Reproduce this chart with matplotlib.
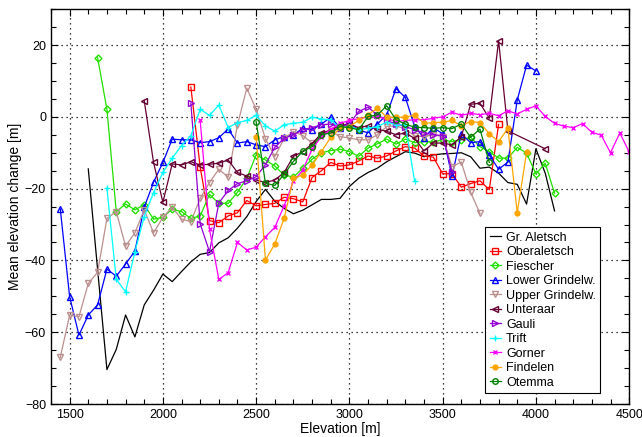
import numpy as np
import matplotlib
matplotlib.use('Agg')
import matplotlib.pyplot as plt
from matplotlib.ticker import MultipleLocator

plt.rcParams['font.family'] = ['Liberation Sans', 'DejaVu Sans']
plt.rcParams['font.size'] = 10

# ── Data: mean elevation change [m] per 50 m elevation band ─────────
aletsch_start = 1600
aletsch = [-14.5, -42.5, -70.4, -64.8, -55.2, -61.3, -52.4, -48.3, -43.8, -45.9,
           -43.1, -40.4, -38.3, -37.8, -35.1, -33.7, -31.0, -27.8, -23.6, -20.2,
           -23.5, -25.5, -27.0, -26.0, -24.5, -23.0, -23.0, -22.7, -19.4, -17.1,
           -15.5, -14.3, -12.5, -11.1, -9.7, -10.1, -11.1, -10.6, -10.3, -10.2,
           -10.0, -11.1, -14.3, -14.0, -15.7, -18.3, -18.8, -24.3, -8.9, -15.7,
           -26.2]

oberaletsch_start = 2150
oberaletsch = [8.3, -14.0, -28.9, -29.5, -27.6, -26.7, -23.3, -24.8, -24.4, -24.1,
               -22.4, -22.8, -23.7, -16.9, -15.0, -12.7, -13.7, -13.4, -12.3, -10.9,
               -11.5, -10.9, -9.5, -8.3, -8.7, -10.9, -11.2, -15.9, -15.8, -19.6,
               -18.6, -17.8, -20.3, -2.1]

fiescher_start = 1650
fiescher = [16.5, 2.1, -26.4, -24.3, -25.9, -24.5, -28.5, -28.0, -25.7, -26.4,
            -28.3, -27.6, -21.6, -24.1, -24.1, -21.0, -17.1, -10.6, -12.0, -13.7,
            -16.2, -16.8, -14.3, -11.8, -10.0, -9.4, -9.0, -9.7, -11.0, -8.7,
            -7.5, -6.2, -7.6, -6.2, -7.2, -6.9, -7.0, -6.4, -6.9, -6.4,
            -5.7, -8.3, -9.7, -11.5, -11.5, -8.5, -10.1, -15.9, -12.9, -21.3]

lower_grin_start = 1450
lower_grin = [-25.7, -50.1, -60.8, -55.2, -52.4, -42.4, -44.4, -41.0, -37.4, -25.2,
              -18.2, -12.7, -6.2, -6.4, -6.4, -7.2, -6.9, -5.8, -3.4, -7.3,
              -6.9, -7.8, -8.3, -6.4, -5.5, -5.0, -3.2, -3.6, -2.0, -0.1,
              -3.0, -1.6, -3.8, -4.4, -2.0, 0.6, 7.9, 5.4, -2.7, -5.9,
              -3.0, -4.7, -16.6, -4.7, -7.2, -6.9, -10.6, -14.6, -12.6, 4.7,
              14.4, 12.8]

upper_grin_start = 1450
upper_grin = [-67.0, -55.2, -55.7, -46.4, -43.3, -28.3, -26.4, -36.0, -32.3, -25.9,
              -32.3, -28.0, -25.2, -28.5, -29.2, -22.7, -18.3, -14.6, -16.8, -2.2,
              8.0, 2.1, -6.1, -11.1, -6.0, -4.1, -5.2, -7.3, -5.0, -4.0,
              -5.5, -5.9, -6.4, -6.4, -5.0, -2.7, -2.5, -3.4, -5.3, -5.5,
              -5.0, -5.5, -13.9, -12.6, -21.0, -26.9]

unteraar_elev = [1900, 1950, 2000, 2050, 2100, 2150, 2200, 2250, 2300, 2350,
                 2400, 2450, 2500, 2550, 2600, 2650, 2700, 2750, 2800, 2850,
                 2900, 2950, 3000, 3050, 3100, 3150, 3200, 3250, 3300, 3350,
                 3400, 3450, 3500, 3550, 3600, 3650, 3700, 3750, 3800, 3850,
                 4050]
unteraar = [4.5, -12.7, -23.8, -13.1, -13.4, -12.5, -13.4, -13.2, -12.9, -12.0,
            -15.5, -16.5, -17.6, -18.3, -17.6, -15.5, -11.0, -9.7, -7.5, -4.6,
            -3.6, -2.5, -2.0, -3.0, -2.5, -3.5, -4.0, -5.0, -4.5, -6.0,
            -9.5, -7.3, -7.3, -7.8, -5.5, 3.5, 3.8, -0.4, 21.2, -3.9,
            -8.9]

gauli_start = 2150
gauli = [3.8, -29.8, -37.6, -24.0, -20.5, -18.6, -17.8, -16.7, -13.3, -8.5,
         -6.0, -5.0, -3.6, -3.0, -2.2, -2.0, -3.0, -2.0, 1.5, 2.7,
         0.5, -1.0, -2.0, -2.7, -3.6, -4.5, -5.0, -5.2, -15.3]

trift_start = 1700
trift = [-19.9, -45.3, -48.7, -37.6, -27.8, -21.1, -15.5, -11.5, -8.0, -5.3,
         2.1, 0.4, 3.3, -3.0, -1.6, -1.0, 0.4, -2.5, -4.0, -2.2,
         -1.8, -1.5, -0.1, -0.6, -0.8, -3.2, -2.5, -3.6, -3.2, -2.7,
         -1.5, -2.2, -2.2, -18.0]

gorner_start = 2200
gorner = [-1.0, -31.3, -45.3, -43.4, -35.0, -37.1, -36.3, -33.4, -30.8, -24.8,
          -18.0, -14.8, -9.0, -5.5, -3.5, -1.8, -1.0, -0.5, -0.1, -0.1,
          -0.4, -1.3, -1.0, -0.8, -0.8, -0.4, 0.0, 1.3, 0.4, 1.0,
          0.6, 1.0, 0.3, 1.7, 0.8, 2.1, 3.1, 0.1, -1.8, -2.6,
          -3.0, -1.9, -4.3, -5.1, -10.0, -4.5, -9.8]

findelen_start = 2500
findelen = [-5.6, -39.9, -35.4, -28.3, -17.1, -16.2, -13.4, -9.7, -5.7, -3.2,
            -2.7, -1.0, 0.6, 2.4, -0.1, -0.1, -0.1, 0.5, -1.8, -1.6,
            -1.5, -1.0, -2.5, -1.3, -1.6, -4.7, -6.9, -3.2, -26.7, -9.9]

otemma_start = 2500
otemma = [-1.3, -18.5, -19.1, -16.0, -12.4, -9.6, -8.3, -5.0, -4.5, -2.7,
          -3.0, -3.6, 0.1, 0.5, 3.1, -0.8, -2.0, -2.9, -3.0, -3.2,
          -3.0, -3.3, -2.0, -5.7, -3.4, -12.7]


def bands(start, vals):
    return start + 50 * np.arange(len(vals))


fig = plt.figure(figsize=(6.42, 4.37), dpi=100)
ax = fig.add_axes([0.0794, 0.0755, 0.9006, 0.9035])

ms = 4
lw = 0.9
ax.plot(bands(aletsch_start, aletsch), aletsch, '-', color='black', lw=lw,
        label='Gr. Aletsch')
ax.plot(bands(oberaletsch_start, oberaletsch), oberaletsch, '-s', color='red',
        mfc='none', ms=ms, lw=lw, label='Oberaletsch')
ax.plot(bands(fiescher_start, fiescher), fiescher, '-D', color='#22e000',
        mfc='none', ms=3.5, lw=lw, label='Fiescher')
ax.plot(bands(lower_grin_start, lower_grin), lower_grin, '-^', color='blue',
        mfc='none', ms=ms, lw=lw, label='Lower Grindelw.')
ax.plot(bands(upper_grin_start, upper_grin), upper_grin, '-v', color='#bc8f8f',
        mfc='none', ms=ms, lw=lw, label='Upper Grindelw.')
ax.plot(unteraar_elev, unteraar, '-<', color='#660033',
        mfc='none', ms=ms, lw=lw, label='Unteraar')
ax.plot(bands(gauli_start, gauli), gauli, '->', color='#9400d3',
        mfc='none', ms=ms, lw=lw, label='Gauli')
ax.plot(bands(trift_start, trift), trift, '-+', color='cyan',
        ms=ms + 1, lw=lw, label='Trift')
ax.plot(bands(gorner_start, gorner), gorner, '-x', color='magenta',
        ms=3.5, lw=lw, label='Gorner')
ax.plot(bands(findelen_start, findelen), findelen, '-o', color='orange',
        ms=3.5, lw=lw, label='Findelen')
ax.plot(bands(otemma_start, otemma), otemma, '-o', color='green',
        mfc='none', ms=ms, lw=lw, label='Otemma')

ax.set_xlim(1400, 4500)
ax.set_ylim(-80, 30)
ax.xaxis.set_major_locator(MultipleLocator(500))
ax.xaxis.set_minor_locator(MultipleLocator(100))
ax.yaxis.set_major_locator(MultipleLocator(20))
ax.yaxis.set_minor_locator(MultipleLocator(5))
ax.tick_params(which='both', direction='in', top=True, right=True,
               labelsize=9, width=0.8)
ax.tick_params(which='major', length=5)
ax.tick_params(which='minor', length=3.5)
ax.grid(True, which='major', color='black', linestyle=(0, (1, 3)), lw=0.9)
for s in ax.spines.values():
    s.set_linewidth(1.0)

ax.set_xlabel('Elevation [m]', labelpad=1)
ax.set_ylabel('Mean elevation change [m]', labelpad=2)

leg = ax.legend(loc='lower right', bbox_to_anchor=(0.95, 0.028),
                fontsize=9, handlelength=0.9, handletextpad=0.4,
                labelspacing=0.2, borderpad=0.35, borderaxespad=0,
                fancybox=False, framealpha=1, edgecolor='black')
leg.get_frame().set_linewidth(0.8)

plt.savefig('out.png', dpi=100)
